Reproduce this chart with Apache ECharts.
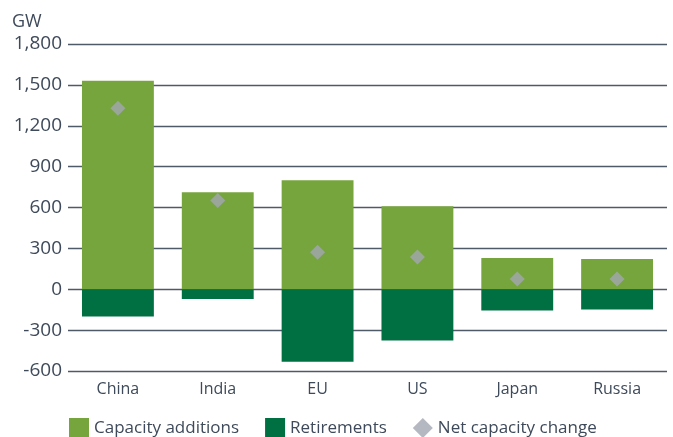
<!DOCTYPE html>
<html>
  <head>
    <meta charset="utf-8" />
    <script src="https://cdn.jsdelivr.net/npm/echarts@6/dist/echarts.min.js"></script>
  </head>
  <body>
    <style>
      html,
      body,
      #main {
        width: 100%;
        height: 100%;
        margin: 0;
        background: #fff;
      }
    </style>
    <div id="main"></div>
    <script>
      var chart = echarts.init(document.getElementById('main'));

      var regions = ['China', 'India', 'EU', 'US', 'Japan', 'Russia'];
      var additions = [1531, 712, 800, 609, 229, 222];
      var retirements = [-200, -71, -532, -376, -156, -149];
      var netChange = [1328, 651, 271, 236, 75, 75];

      var textColor = '#3e4a5a';
      var font = 'Open Sans';

      var option = {
        backgroundColor: '#fff',
        textStyle: { fontFamily: font },
        title: {
          text: 'GW',
          left: 7,
          top: 8,
          textStyle: { color: textColor, fontSize: 18, fontWeight: 'normal', fontFamily: font }
        },
        grid: { left: 68, right: 6, top: 44, bottom: 66 },
        legend: {
          left: 64,
          top: 413,
          itemWidth: 20,
          itemHeight: 20,
          itemGap: 26,
          textStyle: { color: textColor, fontSize: 17, fontFamily: font },
          data: [
            { name: 'Capacity additions', icon: 'rect' },
            { name: 'Retirements', icon: 'rect' },
            { name: 'Net capacity change', icon: 'diamond', itemStyle: { color: '#a1a6b0' } }
          ]
        },
        xAxis: {
          type: 'category',
          data: regions,
          axisLine: { show: false },
          axisTick: { show: false },
          axisLabel: { color: textColor, fontSize: 16, margin: 10, fontFamily: font }
        },
        yAxis: {
          type: 'value',
          min: -600,
          max: 1800,
          interval: 300,
          axisLine: { show: false },
          axisTick: { show: false },
          axisLabel: {
            color: textColor,
            fontSize: 19,
            margin: 6,
            fontFamily: font,
            formatter: function (v) {
              return v.toLocaleString('en-US');
            }
          },
          splitLine: { lineStyle: { color: '#4f5a68', width: 1.3 } }
        },
        series: [
          {
            name: 'Capacity additions',
            type: 'bar',
            stack: 'cap',
            barWidth: '72%',
            itemStyle: { color: '#77a53d' },
            data: additions
          },
          {
            name: 'Retirements',
            type: 'bar',
            stack: 'cap',
            barWidth: '72%',
            itemStyle: { color: '#007042' },
            data: retirements
          },
          {
            name: 'Net capacity change',
            type: 'scatter',
            symbol: 'diamond',
            symbolSize: 15,
            itemStyle: { color: '#a1a6b0' },
            z: 5,
            data: netChange
          }
        ]
      };

      chart.setOption(option);

      window.onresize = function () {
        chart.resize();
      };
    </script>
  </body>
</html>
